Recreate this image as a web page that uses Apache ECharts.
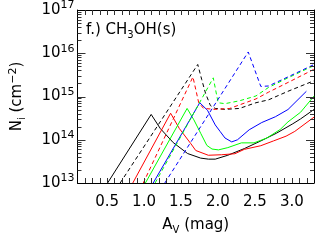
<!DOCTYPE html>
<html><head><meta charset="utf-8">
<script src="https://cdn.jsdelivr.net/npm/echarts@6/dist/echarts.min.js"></script>
<style>html,body{margin:0;padding:0;background:#fff}#c{width:317px;height:240px}</style>
</head><body><div id="c"></div>
<script>
// A_V (mag) vs N_i (cm^-2)
const blackSolid = [[0.507,1.0e13],[1.097,3.85e14],[1.22,1.82e14],[1.395,8.6e13],[1.59,4.8e13],[1.767,3.76e13],[1.872,3.56e13],[1.964,3.56e13],[2.134,4.38e13],[2.357,6.25e13],[2.580,9.38e13],[2.790,1.41e14],[3.013,2.34e14],[3.118,3.03e14],[3.302,5.04e14]];
const redSolid = [[0.848,1.0e13],[1.360,4.10e14],[1.478,1.82e14],[1.635,8.05e13],[1.70,5.64e13],[1.87,4.38e13],[2.05,4.5e13],[2.23,4.75e13],[2.357,6.0e13],[2.580,7.28e13],[2.751,9.38e13],[2.922,1.21e14],[3.040,1.56e14],[3.302,3.35e14]];
const greenSolid = [[1.019,1.0e13],[1.583,5.30e14],[1.675,2.88e14],[1.767,1.41e14],[1.85,7.4e13],[1.92,6.1e13],[2.007,5.83e13],[2.134,6.58e13],[2.318,8.47e13],[2.488,8.47e13],[2.659,1.09e14],[2.843,1.73e14],[2.948,2.59e14],[3.118,4.32e14],[3.302,1.03e15]];
const blueSolid = [[1.124,1.0e13],[1.754,7.18e14],[1.859,4.8e14],[1.964,2.2e14],[2.029,1.56e14],[2.095,1.1e14],[2.187,8.91e13],[2.265,1.0e14],[2.423,1.7e14],[2.593,2.5e14],[2.777,3.4e14],[2.948,5.0e14],[3.197,1.32e15]];
const blackDashed = [[0.677,1.0e13],[1.727,5.50e15],[1.78,2.5e15],[1.832,1.19e15],[1.898,6.17e14],[1.964,5.30e14],[2.095,5.04e14],[2.292,5.30e14],[2.515,7.18e14],[2.685,8.37e14],[2.948,1.32e15],[3.302,2.32e15]];
const redDashed = [[0.99,1.0e13],[1.662,2.84e15],[1.74,7.18e14],[1.806,5.30e14],[1.964,5.04e14],[2.160,5.30e14],[2.515,8.8e14],[2.685,1.26e15],[2.948,2.11e15],[3.302,4.27e15]];
const greenDashed = [[1.15,1.0e13],[1.937,2.70e15],[2.003,7.18e14],[2.095,6.82e14],[2.292,7.96e14],[2.515,1.03e15],[2.685,1.62e15],[2.948,2.70e15],[3.302,5.22e15]];
const blueDashed = [[1.281,1.0e13],[2.410,1.07e16],[2.580,1.71e15],[2.685,1.75e15],[2.948,2.84e15],[3.302,5.5e15]];
// tick positions
const xTickValues = [];
for (let i = 2; i <= 32; i++) xTickValues.push(i / 10);
const yMajorValues = [1e14, 1e15, 1e16];
const yMinorValues = [];
for (let e = 13; e < 17; e++) for (let m = 2; m < 10; m++) yMinorValues.push(m * Math.pow(10, e));

const FONT = 'DejaVu Sans';
const AX = '#000';
const TK = '#333';
function mk(name, data, color, dashed) {
  return { name, type: 'line', data, symbol: 'none', xAxisIndex: 0, yAxisIndex: 0,
    lineStyle: { color, width: 1, type: dashed ? [4, 3] : 'solid' } };
}
const xMain = { type: 'value', min: 0.1, max: 3.3, interval: 0.1,
  axisLine: { show: true, lineStyle: { color: AX, width: 1 } },
  axisTick: { show: false }, splitLine: { show: false } };
const yMain = { type: 'log', logBase: 10, min: 1e13, max: 1e17,
  axisLine: { show: true, lineStyle: { color: AX, width: 1 } },
  axisTick: { show: false }, splitLine: { show: false } };

const chart = echarts.init(document.getElementById('c'), null, { renderer: 'canvas' });
chart.setOption({
  animation: false,
  grid: { left: 73, right: 1, top: 3, bottom: 56 },
  title: { text: 'f.) CH{s|3}OH(s)', left: 81, top: 15,
    textStyle: { fontFamily: FONT, fontSize: 15, fontWeight: 'normal', color: '#000',
      rich: { s: { fontFamily: FONT, fontSize: 10, padding: [10, 0, 0, 0], color: '#000' } } } },
  xAxis: [
    Object.assign({}, xMain, { position: 'bottom', name: 'A{s|V} (mag)', nameLocation: 'middle', nameGap: 32,
      nameTextStyle: { fontFamily: FONT, fontSize: 15, color: '#000', rich: { s: { fontFamily: FONT, fontSize: 10, padding: [10, 0, 0, 0], color: '#000' } } },
      axisLabel: { show: true, margin: 12, fontFamily: FONT, fontSize: 15, color: '#000',
        formatter: v => (Math.abs(v * 2 - Math.round(v * 2)) < 1e-6 && v > 0.3) ? v.toFixed(1) : '' } }),
    Object.assign({}, xMain, { position: 'top', axisLabel: { show: false } })
  ],
  yAxis: [
    Object.assign({}, yMain, { position: 'left', name: 'N{s|i} (cm{p|−2})', nameLocation: 'middle', nameGap: 50, nameRotate: 90,
      nameTextStyle: { fontFamily: FONT, fontSize: 15, color: '#000',
        rich: { s: { fontFamily: FONT, fontSize: 10, padding: [10, 0, 0, 0], color: '#000' }, p: { fontFamily: FONT, fontSize: 11, padding: [0, 0, 8, 0], color: '#000' } } },
      axisLabel: { show: true, margin: 3, color: '#000',
        formatter: v => '{b|10}{e|' + Math.round(Math.log10(v)) + '}',
        rich: { b: { fontFamily: FONT, fontSize: 15, color: '#000' }, e: { fontFamily: FONT, fontSize: 11, padding: [0, 0, 9, 0], color: '#000' } } } }),
    Object.assign({}, yMain, { position: 'right', axisLabel: { show: false } })
  ],
  series: [
    mk('black solid', blackSolid, '#000000', false),
    mk('red solid', redSolid, '#ff0000', false),
    mk('green solid', greenSolid, '#00ff00', false),
    mk('blue solid', blueSolid, '#0000ff', false),
    mk('black dashed', blackDashed, '#000000', true),
    mk('red dashed', redDashed, '#ff0000', true),
    mk('green dashed', greenDashed, '#00ff00', true),
    mk('blue dashed', blueDashed, '#0000ff', true)
  ]
});

// inward tick marks on all four sides, placed through the axes' own scales
const px = v => chart.convertToPixel({ xAxisIndex: 0 }, v);
const py = v => chart.convertToPixel({ yAxisIndex: 0 }, v);
const xL = px(0.1), xR = px(3.3), yB = py(1e13), yT = py(1e17);
const tickEls = [];
function seg(x1, y1, x2, y2) {
  tickEls.push({ type: 'line', silent: true, z: 50,
    shape: { x1, y1, x2, y2 }, style: { stroke: TK, lineWidth: 1 } });
}
xTickValues.forEach(v => {
  const x = Math.round(px(v)) + 0.5;
  seg(x, yB, x, yB - 5);
  seg(x, yT, x, yT + 5);
});
yMajorValues.forEach(v => {
  const y = Math.round(py(v)) + 0.5;
  seg(xL, y, xL + 8, y);
  seg(xR, y, xR - 8, y);
});
yMinorValues.forEach(v => {
  const y = Math.round(py(v)) + 0.5;
  seg(xL, y, xL + 4, y);
  seg(xR, y, xR - 4, y);
});
chart.setOption({ graphic: { elements: tickEls } });
</script></body></html>
